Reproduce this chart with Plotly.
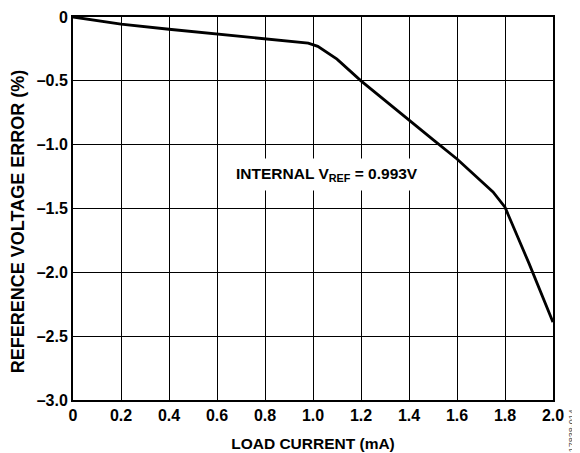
import plotly.graph_objects as go

# load current (mA) vs reference voltage error (%)
load_current = [0.0, 0.2, 0.4, 0.6, 0.8, 0.98, 1.02, 1.05, 1.1, 1.2, 1.3, 1.4, 1.5, 1.6, 1.7, 1.75, 1.8, 1.9, 2.0]
vref_error = [0.0, -0.055, -0.096, -0.135, -0.172, -0.205, -0.23, -0.266, -0.33, -0.5, -0.655, -0.807, -0.96, -1.112, -1.28, -1.37, -1.49, -1.93, -2.39]

x_ticks = [0, 0.2, 0.4, 0.6, 0.8, 1.0, 1.2, 1.4, 1.6, 1.8, 2.0]
x_labels = ["0", "0.2", "0.4", "0.6", "0.8", "1.0", "1.2", "1.4", "1.6", "1.8", "2.0"]
y_ticks = [0, -0.5, -1.0, -1.5, -2.0, -2.5, -3.0]
y_labels = ["0", "–0.5", "–1.0", "–1.5", "–2.0", "–2.5", "–3.0"]

FONT = "Arial, Liberation Sans, sans-serif"

fig = go.Figure()
fig.add_trace(go.Scatter(
    x=load_current, y=vref_error, mode="lines",
    line=dict(color="black", width=2.8), showlegend=False,
))

fig.add_annotation(
    x=1.06, y=-1.23, xref="x", yref="y",
    text="<b>INTERNAL V<sub>REF</sub> = 0.993V</b>", showarrow=False,
    font=dict(family=FONT, size=15.5, color="black"),
    bgcolor="white", borderpad=6,
)
# y axis title as annotation (sits a bit below the plot centre in the original)
fig.add_annotation(
    x=-0.114, y=0.465, xref="paper", yref="paper", xanchor="center", yanchor="middle",
    text="<b>REFERENCE VOLTAGE ERROR (%)</b>", showarrow=False, textangle=-90,
    font=dict(family=FONT, size=18, color="black"),
)
fig.add_annotation(
    x=1.04, y=-0.02, xref="paper", yref="paper", xanchor="center", yanchor="top",
    text="17838-014", showarrow=False, textangle=-90,
    font=dict(family=FONT, size=9, color="#555555"),
)

fig.update_xaxes(
    range=[0, 2.0], tickvals=x_ticks, ticktext=["<b>%s</b>" % t for t in x_labels],
    showgrid=True, gridcolor="black", gridwidth=1,
    showline=True, linecolor="black", linewidth=2, mirror=True,
    ticks="", zeroline=False, ticklabeloverflow="allow", automargin=False,
    tickfont=dict(family=FONT, size=16, color="black"),
    title=dict(text="<b>LOAD CURRENT (mA)</b>", font=dict(family=FONT, size=15.5, color="black"), standoff=15),
)
fig.update_yaxes(
    range=[-3.0, 0], tickvals=y_ticks, ticktext=["<b>%s</b>" % t for t in y_labels],
    showgrid=True, gridcolor="black", gridwidth=1,
    showline=True, linecolor="black", linewidth=2, mirror=True,
    ticks="", zeroline=False, ticklabeloverflow="allow", automargin=False,
    tickfont=dict(family=FONT, size=16, color="black"),
)

fig.update_layout(
    width=580, height=453,
    margin=dict(l=65, r=35, t=9, b=61),
    plot_bgcolor="white", paper_bgcolor="white",
    font=dict(family=FONT, size=15, color="black"),
)

fig.write_html("out.html")
